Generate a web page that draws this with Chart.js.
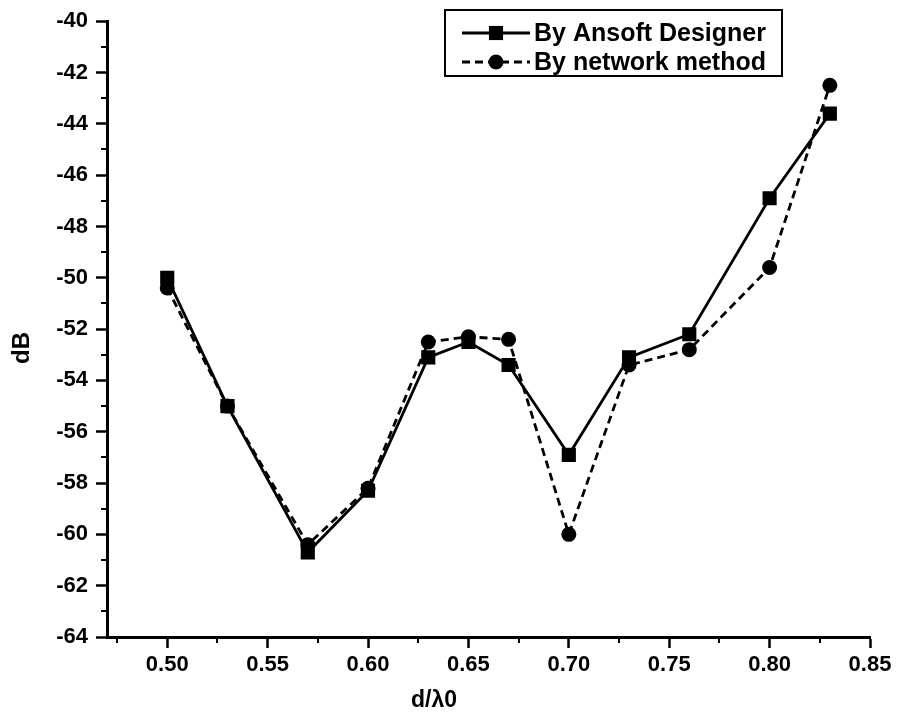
<!DOCTYPE html>
<html>
<head>
<meta charset="utf-8">
<title>dB vs d/λ0</title>
<script src="https://cdn.jsdelivr.net/npm/chart.js@4.4.1/dist/chart.umd.min.js"></script>
<style>
  html, body { margin: 0; padding: 0; background: #fff; }
  #wrap { width: 897px; height: 722px; }
</style>
</head>
<body>
<div id="wrap"><canvas id="chart" width="897" height="722"></canvas></div>
<script>
// --- data ---
const spacing = [0.50, 0.53, 0.57, 0.60, 0.63, 0.65, 0.67, 0.70, 0.73, 0.76, 0.80, 0.83];
const ansoftDb = [-50.0, -55.0, -60.7, -58.3, -53.1, -52.5, -53.4, -56.9, -53.1, -52.2, -46.9, -43.6];
const networkDb = [-50.4, -55.0, -60.4, -58.2, -52.5, -52.3, -52.4, -60.0, -53.4, -52.8, -49.6, -42.5];

const xTicks = [0.50, 0.55, 0.60, 0.65, 0.70, 0.75, 0.80, 0.85];
const yTicks = [-64, -62, -60, -58, -56, -54, -52, -50, -48, -46, -44, -42, -40];

const FONT = "'Liberation Sans', Arial, sans-serif";

// --- helpers ---
function toPoints(xs, ys) {
  return xs.map((x, i) => ({ x: x, y: ys[i] }));
}

// minor ticks halfway between the major ones (plus one before the first)
function minorValues(majors, min, max) {
  const step = majors[1] - majors[0];
  const out = [];
  for (let v = majors[0] - step / 2; v < max + 1e-9; v += step) {
    if (v >= min - 1e-9 && v <= max + 1e-9) out.push(v);
  }
  return out;
}

// --- minor ticks, axis titles, boxed legend ---
const extras = {
  id: "extras",
  afterDraw(chart) {
    const ctx = chart.ctx;
    const xs = chart.scales.x, ys = chart.scales.y;
    const area = chart.chartArea;

    ctx.save();
    ctx.strokeStyle = "#000";
    ctx.lineWidth = 2;
    ctx.beginPath();
    minorValues(xTicks, xs.min, xs.max).forEach(v => {
      const px = Math.round(xs.getPixelForValue(v));
      ctx.moveTo(px, area.bottom);
      ctx.lineTo(px, area.bottom + 6);
    });
    minorValues(yTicks, ys.min, ys.max).forEach(v => {
      const py = Math.round(ys.getPixelForValue(v));
      ctx.moveTo(area.left, py);
      ctx.lineTo(area.left - 6, py);
    });
    ctx.stroke();

    // axis titles
    ctx.fillStyle = "#000";
    ctx.textAlign = "center";
    ctx.textBaseline = "middle";
    ctx.font = "bold 23px " + FONT;
    ctx.fillText("d/λ0", 434, 701);
    ctx.save();
    ctx.translate(22, 348);
    ctx.rotate(-Math.PI / 2);
    ctx.font = "bold 24px " + FONT;
    ctx.fillText("dB", 0, 0);
    ctx.restore();

    // legend box
    const box = { left: 445, top: 10, right: 782, bottom: 76 };
    ctx.lineWidth = 2;
    ctx.strokeRect(box.left, box.top, box.right - box.left, box.bottom - box.top);

    const rowY = [33, 62];
    chart.data.datasets.forEach((ds, i) => {
      const y = rowY[i];
      ctx.save();
      ctx.lineWidth = ds.borderWidth;
      ctx.setLineDash(ds.borderDash || []);
      ctx.beginPath();
      ctx.moveTo(462, y);
      ctx.lineTo(530, y);
      ctx.stroke();
      ctx.restore();
      ctx.fillStyle = "#000";
      Chart.helpers.drawPoint(ctx, {
        pointStyle: ds.pointStyle,
        radius: ds.pointRadius,
        rotation: 0,
        borderWidth: 0
      }, 496, y);
      ctx.textAlign = "left";
      ctx.font = "bold 25px " + FONT;
      ctx.fillText(ds.label, 534, y + 1);
    });
    ctx.restore();
  }
};

const axisStyle = {
  grid: {
    display: true,
    drawOnChartArea: false,
    drawTicks: true,
    tickLength: 11,
    tickWidth: 2.5,
    tickColor: "#000"
  },
  border: { display: true, color: "#000", width: 3 }
};

new Chart(document.getElementById("chart"), {
  type: "line",
  data: {
    datasets: [
      {
        label: "By Ansoft Designer",
        data: toPoints(spacing, ansoftDb),
        borderColor: "#000",
        backgroundColor: "#000",
        borderWidth: 2.8,
        pointStyle: "rect",
        pointRadius: 10,
        pointBorderWidth: 0,
        tension: 0
      },
      {
        label: "By network method",
        data: toPoints(spacing, networkDb),
        borderColor: "#000",
        backgroundColor: "#000",
        borderWidth: 2.8,
        borderDash: [8, 5],
        pointStyle: "circle",
        pointRadius: 7.5,
        pointBorderWidth: 0,
        tension: 0
      }
    ]
  },
  options: {
    responsive: false,
    animation: false,
    layout: { padding: { left: 0, top: 21, right: 27, bottom: 0 } },
    plugins: { legend: { display: false }, tooltip: { enabled: false } },
    scales: {
      x: {
        type: "linear",
        min: 0.47,
        max: 0.85,
        ...axisStyle,
        afterBuildTicks: s => { s.ticks = xTicks.map(v => ({ value: v })); },
        afterFit: s => { s.height = 85; },
        ticks: {
          color: "#000",
          padding: 4,
          autoSkip: false,
          maxRotation: 0,
          font: { family: FONT, size: 22, weight: "bold" },
          callback: v => v.toFixed(2)
        }
      },
      y: {
        type: "linear",
        min: -64,
        max: -40,
        ...axisStyle,
        afterBuildTicks: s => { s.ticks = yTicks.map(v => ({ value: v })); },
        afterFit: s => { s.width = 107; },
        ticks: {
          color: "#000",
          padding: 8,
          font: { family: FONT, size: 22, weight: "bold" },
          callback: v => String(v)
        }
      }
    }
  },
  plugins: [extras]
});
</script>
</body>
</html>
